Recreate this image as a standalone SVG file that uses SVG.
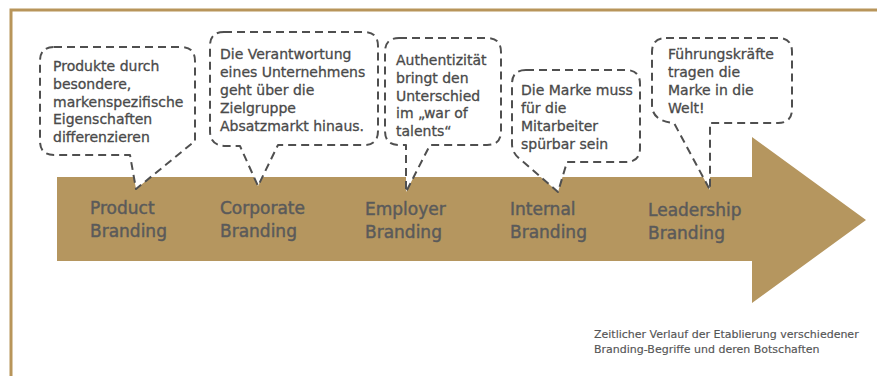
<svg xmlns="http://www.w3.org/2000/svg" width="877" height="376" viewBox="0 0 877 376">
<style>
.frame{fill:none;stroke:#b8955a;stroke-width:3}
.arrow{fill:#b5965f}
.bubble{fill:#ffffff;stroke:#4f4f4f;stroke-width:2;stroke-dasharray:8 5;stroke-linejoin:round}
.bt{font-family:"DejaVu Sans",sans-serif;font-size:14px;fill:#4a4a4a;stroke:#4a4a4a;stroke-width:0.3}
.lbl{font-family:"DejaVu Sans",sans-serif;font-size:17px;fill:#5a5a5a;stroke:#5a5a5a;stroke-width:0.45}
.cap{font-family:"DejaVu Sans",sans-serif;font-size:11px;fill:#555555;stroke:#555555;stroke-width:0.15}
</style>
<rect width="877" height="376" fill="#ffffff"/>
<path class="frame" d="M11,376 V10 H877"/>
<g id="arrow">
<path class="arrow" d="M57,177 H752 V137 L866,220 L752,303 V261 H57 Z"/>
</g>
<g id="connectors">
<path class="bubble" d="M54,47 H181 Q195,47 195,61 V141 L136,189 L130,155 H54 Q40,155 40,141 V61 Q40,47 54,47 Z"/>
<path class="bubble" d="M224,32 H364 Q378,32 378,46 V131 Q378,145 364,145 H278 L258,186 L240,146 H224 Q210,145 210,131 V46 Q210,32 224,32 Z"/>
<path class="bubble" d="M399,38 H487 Q501,38 501,52 V131 Q501,145 487,145 H430 L406,192 L406,145 H399 Q385,145 385,131 V52 Q385,38 399,38 Z"/>
<path class="bubble" d="M526,70 H626 Q640,70 640,84 V148 Q640,162 626,162 H567 L558,192 L520,159 Q512,153 512,144 V84 Q512,70 526,70 Z"/>
<path class="bubble" d="M666,38 H778 Q792,38 792,52 V109 Q792,123 778,123 H710 V190 L674,123 Q652,121 652,105 V52 Q652,38 666,38 Z"/>
</g>
<g id="product">
<text class="bt" x="53" y="71">Produkte durch</text>
<text class="bt" x="53" y="89">besondere,</text>
<text class="bt" x="53" y="107">markenspezifische</text>
<text class="bt" x="53" y="124">Eigenschaften</text>
<text class="bt" x="53" y="142">differenzieren</text>
<text class="lbl" x="90" y="214">Product</text>
<text class="lbl" x="90" y="237">Branding</text>
</g>
<g id="corporate">
<text class="bt" x="220" y="59">Die Verantwortung</text>
<text class="bt" x="220" y="77">eines Unternehmens</text>
<text class="bt" x="220" y="95">geht über die</text>
<text class="bt" x="220" y="113">Zielgruppe</text>
<text class="bt" x="220" y="131">Absatzmarkt hinaus.</text>
<text class="lbl" x="220" y="214">Corporate</text>
<text class="lbl" x="220" y="237">Branding</text>
</g>
<g id="employer">
<text class="bt" x="396" y="65">Authentizität</text>
<text class="bt" x="396" y="83">bringt den</text>
<text class="bt" x="396" y="101">Unterschied</text>
<text class="bt" x="396" y="118">im „war of</text>
<text class="bt" x="396" y="136">talents“</text>
<text class="lbl" x="365" y="215">Employer</text>
<text class="lbl" x="365" y="238">Branding</text>
</g>
<g id="internal">
<text class="bt" x="521" y="95">Die Marke muss</text>
<text class="bt" x="521" y="113">für die</text>
<text class="bt" x="521" y="131">Mitarbeiter</text>
<text class="bt" x="521" y="149">spürbar sein</text>
<text class="lbl" x="510" y="215">Internal</text>
<text class="lbl" x="510" y="238">Branding</text>
</g>
<g id="leadership">
<text class="bt" x="668" y="59">Führungskräfte</text>
<text class="bt" x="668" y="77">tragen die</text>
<text class="bt" x="668" y="95">Marke in die</text>
<text class="bt" x="668" y="113">Welt!</text>
<text class="lbl" x="648" y="216">Leadership</text>
<text class="lbl" x="648" y="239">Branding</text>
</g>
<g id="caption">
<text class="cap" x="594" y="338">Zeitlicher Verlauf der Etablierung verschiedener</text>
<text class="cap" x="594" y="353">Branding-Begriffe und deren Botschaften</text>
</g>
</svg>
